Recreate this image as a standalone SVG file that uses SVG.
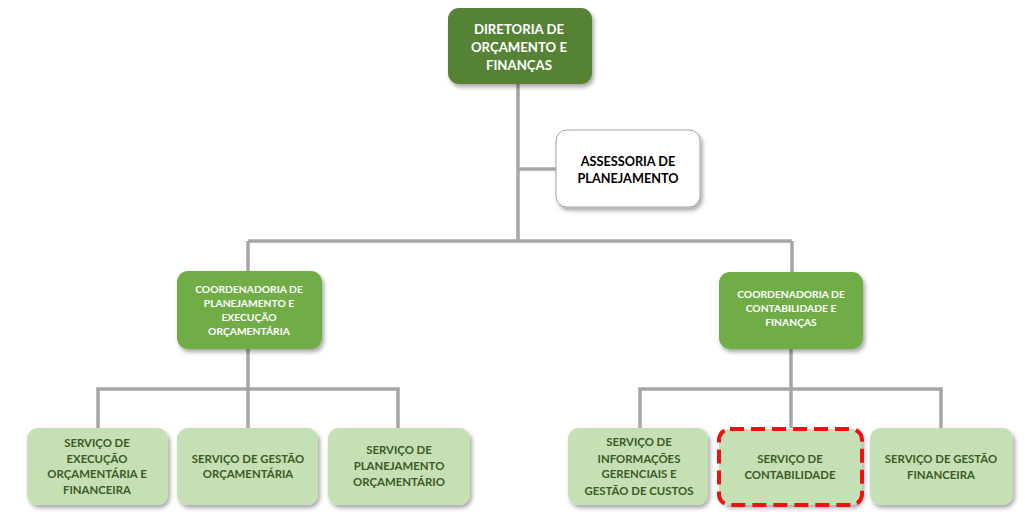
<svg xmlns="http://www.w3.org/2000/svg" width="1025" height="512" viewBox="0 0 1025 512">
<defs>
<filter id="sh" x="-10%" y="-10%" width="125%" height="130%">
<feDropShadow dx="2" dy="3" stdDeviation="2" flood-color="#000" flood-opacity="0.35"/>
</filter>
<style>
.t{font-family:Lato,"Open Sans","Liberation Sans",sans-serif;font-weight:bold;text-anchor:middle}
.dir{fill:#548235;filter:url(#sh)}
.ass{fill:#fff;stroke:#a6a6a6;stroke-width:1;filter:url(#sh)}
.co{fill:#70ad47;filter:url(#sh)}
.sv{fill:#c5e0b4;filter:url(#sh)}
.w{fill:#fff}
.k{fill:#000}
.g{fill:#3b5a27}
.c{fill:none;stroke:#a5a5a5;stroke-width:3.5}
</style>
</defs>
<g id="connectors">
<path class="c" d="M518 84V241M518 169H556M248 241H792M248 241V271M792 241V272"/>
<path class="c" d="M248 349V389M98 428V389H398V428M248 389V428"/>
<path class="c" d="M791 349V389M640 428V389H941V428M791 389V428"/>
</g>
<g id="diretoria">
<rect class="dir" x="448" y="8" width="144" height="76" rx="11"/>
<text class="t w" font-size="13.2"><tspan x="519" y="34">DIRETORIA DE</tspan><tspan x="519" y="52">ORÇAMENTO E</tspan><tspan x="519" y="70">FINANÇAS</tspan></text>
</g>
<g id="assessoria">
<rect class="ass" x="556" y="130" width="144" height="77" rx="11"/>
<text class="t k" font-size="12.7"><tspan x="628" y="166">ASSESSORIA DE</tspan><tspan x="628" y="183">PLANEJAMENTO</tspan></text>
</g>
<g id="coord-planejamento">
<rect class="co" x="177" y="271" width="145" height="78" rx="11"/>
<text class="t w" font-size="10.3"><tspan x="249" y="293">COORDENADORIA DE</tspan><tspan x="249" y="307">PLANEJAMENTO E</tspan><tspan x="249" y="321">EXECUÇÃO</tspan><tspan x="249" y="335">ORÇAMENTÁRIA</tspan></text>
</g>
<g id="coord-contabilidade">
<rect class="co" x="719" y="272" width="144" height="77" rx="11"/>
<text class="t w" font-size="10.3"><tspan x="791" y="298">COORDENADORIA DE</tspan><tspan x="791" y="312">CONTABILIDADE E</tspan><tspan x="791" y="326">FINANÇAS</tspan></text>
</g>
<g id="servico-execucao">
<rect class="sv" x="27" y="428" width="141" height="77" rx="11"/>
<text class="t g" font-size="11.4"><tspan x="97" y="447">SERVIÇO DE</tspan><tspan x="97" y="463">EXECUÇÃO</tspan><tspan x="97" y="478">ORÇAMENTÁRIA E</tspan><tspan x="97" y="494">FINANCEIRA</tspan></text>
</g>
<g id="servico-gestao-orc">
<rect class="sv" x="177" y="428" width="141" height="77" rx="11"/>
<text class="t g" font-size="11.4"><tspan x="248" y="463">SERVIÇO DE GESTÃO</tspan><tspan x="248" y="478">ORÇAMENTÁRIA</tspan></text>
</g>
<g id="servico-planejamento">
<rect class="sv" x="328" y="428" width="142" height="77" rx="11"/>
<text class="t g" font-size="11.4"><tspan x="399" y="454">SERVIÇO DE</tspan><tspan x="399" y="470">PLANEJAMENTO</tspan><tspan x="399" y="486">ORÇAMENTÁRIO</tspan></text>
</g>
<g id="servico-informacoes">
<rect class="sv" x="568" y="428" width="140" height="77" rx="11"/>
<text class="t g" font-size="11.4"><tspan x="639" y="446">SERVIÇO DE</tspan><tspan x="639" y="463">INFORMAÇÕES</tspan><tspan x="639" y="478">GERENCIAIS E</tspan><tspan x="639" y="495">GESTÃO DE CUSTOS</tspan></text>
</g>
<g id="servico-contabilidade">
<rect class="sv" x="719" y="429" width="143" height="76" rx="11"/>
<rect x="719" y="429" width="143" height="76" rx="11" fill="none" stroke="#f01010" stroke-width="4" stroke-dasharray="14 7"/>
<text class="t g" font-size="11.4"><tspan x="790" y="463">SERVIÇO DE</tspan><tspan x="790" y="479">CONTABILIDADE</tspan></text>
</g>
<g id="servico-gestao-fin">
<rect class="sv" x="870" y="428" width="143" height="77" rx="11"/>
<text class="t g" font-size="11.4"><tspan x="941" y="463">SERVIÇO DE GESTÃO</tspan><tspan x="941" y="479">FINANCEIRA</tspan></text>
</g>
</svg>
